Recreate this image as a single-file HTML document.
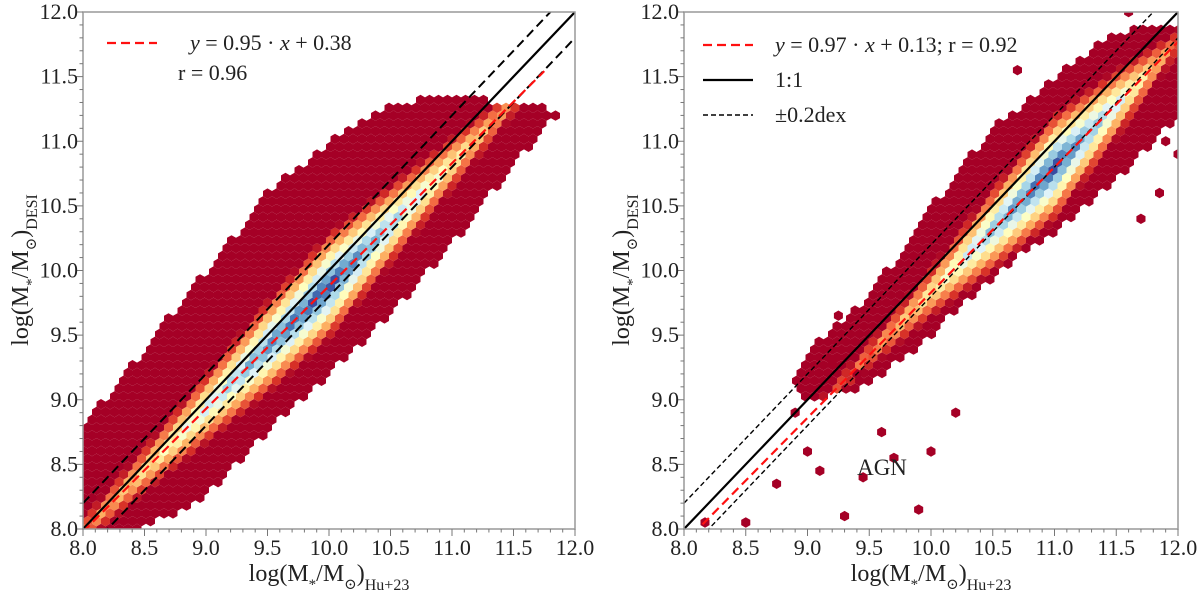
<!DOCTYPE html>
<html><head><meta charset="utf-8">
<style>
html,body{margin:0;padding:0;background:#fff;}
svg{display:block;}
text{font-family:"Liberation Serif","Times New Roman","DejaVu Serif",serif;}
</style></head>
<body>
<svg id="chart" width="1200" height="595" viewBox="0 0 1200 595" xmlns="http://www.w3.org/2000/svg">
</svg>
<script>
// ---------- data ----------
const xTickLabels = ["8.0","8.5","9.0","9.5","10.0","10.5","11.0","11.5","12.0"];
const yTickLabels = ["8.0","8.5","9.0","9.5","10.0","10.5","11.0","11.5","12.0"];
// left panel (all galaxies)
const leftKnotX = [8.0, 8.5, 9.0, 9.5, 10.0, 10.5, 11.0, 11.5, 11.8];
const leftUpper = [8.8, 9.4, 10.0, 10.6, 11.0, 11.3, 11.35, 11.3, 11.25];
const leftLower = [8.0, 8.0, 8.25, 8.75, 9.2, 9.65, 10.2, 10.8, 11.15];
const leftCoreAmp = [0.8, 1.4, 2.1, 2.8, 3.2, 2.4, 1.6, 0.8, 0.3];
const leftFit = {slope: 0.95, intercept: 0.38, xEnd: 11.75};
const leftR = "0.96";
// right panel (AGN)
const rightKnotX = [8.9, 9.0, 9.5, 10.0, 10.5, 11.0, 11.5, 12.0];
const rightUpper = [9.2, 9.4, 9.8, 10.5, 11.1, 11.5, 11.85, 11.9];
const rightLower = [9.1, 9.0, 9.1, 9.5, 9.95, 10.3, 10.7, 11.2];
const rightCoreAmp = [0.1, 0.3, 0.8, 1.5, 2.5, 3.2, 2.1, 0.7];
const rightFit = {slope: 0.97, intercept: 0.13, xStart: 8.15};
const rightR = "0.92";
const rightOutlierX = [8.17, 8.5, 8.75, 9.0, 9.1, 9.3, 9.45, 9.6, 9.9, 10.2, 8.9, 9.25, 9.7, 10.0, 9.2, 9.4, 10.7, 11.6, 11.7, 11.85, 11.9, 12.0];
const rightOutlierY = [8.05, 8.05, 8.35, 8.6, 8.45, 8.1, 8.4, 8.75, 8.15, 8.9, 8.9, 9.65, 8.55, 8.6, 9.3, 9.2, 11.55, 12.0, 10.4, 10.6, 11.0, 10.9];

// ---------- helpers ----------
const svg = document.getElementById('chart');
const NS = "http://www.w3.org/2000/svg";
const FONT = "'Liberation Serif', 'Times New Roman', 'DejaVu Serif', serif";
function mk(tag, attrs, parent){const e=document.createElementNS(NS,tag);for(const k in attrs)e.setAttribute(k,attrs[k]);if(tag==='text')e.style.fontFamily=FONT;(parent||svg).appendChild(e);return e;}
function interp(xs, ys, x){
  if(x<=xs[0])return ys[0]; if(x>=xs[xs.length-1])return ys[ys.length-1];
  for(let i=0;i<xs.length-1;i++){if(x<=xs[i+1]){const t=(x-xs[i])/(xs[i+1]-xs[i]);return ys[i]+t*(ys[i+1]-ys[i]);}}
}
const cmap=["#a50026","#d73027","#f46d43","#fdae61","#fee090","#ffffbf","#e0f3f8","#abd9e9","#74add1","#4575b4","#313695"];
function hex2rgb(h){return [1,3,5].map(i=>parseInt(h.substr(i,2),16));}
function color(t){t=Math.max(0,Math.min(1,t));const p=t*(cmap.length-1);const i=Math.min(cmap.length-2,Math.floor(p));const f=p-i;
  const a=hex2rgb(cmap[i]),b=hex2rgb(cmap[i+1]);return "rgb("+a.map((v,k)=>Math.round(v+f*(b[k]-v))).join(",")+")";}

function panel(p){
  const X0=p.x0,X1=p.x1,Y0=12,Y1=529;
  const sx=v=>X0+(v-8)/4*(X1-X0), sy=v=>Y1-(v-8)/4*(Y1-Y0);
  const ix=px=>8+(px-X0)/(X1-X0)*4, iy=py=>8+(Y1-py)/(Y1-Y0)*4;
  const g=mk('g',{});  
  const clip=mk('clipPath',{id:'clip-'+p.name},g); mk('rect',{x:X0,y:Y0,width:X1-X0,height:Y1-Y0},clip);
  const hg=mk('g',{'clip-path':'url(#clip-'+p.name+')'},g);
   
  const dx=9, dy=7.8, R=5.2;
  function hexPath(cx,cy){let s="";for(let k=0;k<6;k++){const a=Math.PI/6+k*Math.PI/3;s+=(k?"L":"M")+(cx+R*Math.cos(a)).toFixed(1)+","+(cy+R*Math.sin(a)).toFixed(1);}return s+"Z";}
  let row=0;
  for(let cy=Y1;cy>Y0-10;cy-=dy,row++){
    for(let cx=X0+(row%2?dx/2:0);cx<X1+10;cx+=dx){
      const x=ix(cx),y=iy(cy);
      const lo=interp(p.kx,p.lo,x),hi=interp(p.kx,p.hi,x);
      if(x<p.kx[0]-0.05||x>p.kx[p.kx.length-1]+0.05||y<lo||y>hi)continue;
      const r=y-(p.fit.slope*x+p.fit.intercept);
      const amp=interp(p.kx,p.amp,x);
      const t=(amp-Math.abs(r)/0.13)/3.2;
      mk('path',{d:hexPath(cx,cy),fill:color(t)},hg);
    }
  }
  if(p.ox){for(let i=0;i<p.ox.length;i++){const h=mk('path',{d:hexPath(sx(p.ox[i]),sy(p.oy[i])),fill:cmap[0]},hg);
     }}
  const lg=mk('g',{'clip-path':'url(#clip-'+p.name+')'},g);
  const l1=mk('line',{x1:sx(8),y1:sy(8),x2:sx(12),y2:sy(12),stroke:'#000','stroke-width':2.2},lg);
   
  [0.2,-0.2].forEach(o=>{const l=mk('line',{x1:sx(8),y1:sy(8+o),x2:sx(12),y2:sy(12+o),stroke:'#000','stroke-width':p.thinDash?1.4:2,'stroke-dasharray':p.thinDash?'5,3':'9,5'},lg);
     });
  const fx0=p.fit.xStart||8, fx1=p.fit.xEnd||12;
  const lf=mk('line',{x1:sx(fx0),y1:sy(p.fit.slope*fx0+p.fit.intercept),x2:sx(fx1),y2:sy(p.fit.slope*fx1+p.fit.intercept),stroke:'#ff1010','stroke-width':2.2,'stroke-dasharray':'9,5'},lg);
   
  const fr=mk('rect',{x:X0,y:Y0,width:X1-X0,height:Y1-Y0,fill:'none',stroke:'#999','stroke-width':1.5},g);
   
  for(let i=0;i<=40;i++){const v=8+i*0.1;const major=i%5===0;const L=major?7:3.5;
    mk('line',{x1:sx(v),y1:Y1,x2:sx(v),y2:Y1+L,stroke:'#777','stroke-width':1},g);
    mk('line',{x1:X0,y1:sy(v),x2:X0-L,y2:sy(v),stroke:'#777','stroke-width':1},g);}
  xTickLabels.forEach((s,i)=>{const v=8+i*0.5;const t=mk('text',{x:sx(v),y:Y1+26,'font-size':22,'text-anchor':'middle',fill:'#222'},g);t.textContent=s;
     });
  yTickLabels.forEach((s,i)=>{const v=8+i*0.5;const t=mk('text',{x:X0-5,y:sy(v)+7,'font-size':22,'text-anchor':'end',fill:'#222'},g);t.textContent=s;
     });
  const xt=mk('text',{x:(X0+X1)/2,y:581,'font-size':24,'text-anchor':'middle',fill:'#222'},g);
  xt.innerHTML='log(M<tspan baseline-shift="sub" font-size="15">*</tspan>/M<tspan baseline-shift="sub" font-size="15">⊙</tspan>)<tspan baseline-shift="sub" font-size="16">Hu+23</tspan>';
   
  const yt=mk('text',{x:0,y:0,'font-size':24,'text-anchor':'middle',fill:'#222',transform:'translate('+(X0-55)+',270) rotate(-90)'},g);
  yt.innerHTML='log(M<tspan baseline-shift="sub" font-size="15">*</tspan>/M<tspan baseline-shift="sub" font-size="15">⊙</tspan>)<tspan baseline-shift="sub" font-size="16">DESI</tspan>';
   
  return {g,sx,sy,X0};
}

const L=panel({name:'left-panel',x0:83,x1:575,kx:leftKnotX,hi:leftUpper,lo:leftLower,amp:leftCoreAmp,fit:leftFit,thinDash:false});
const Rp=panel({name:'right-panel',x0:684,x1:1178,kx:rightKnotX,hi:rightUpper,lo:rightLower,amp:rightCoreAmp,fit:rightFit,thinDash:true,ox:rightOutlierX,oy:rightOutlierY});

function legLine(g,x,y,attrs,name){const l=mk('line',Object.assign({x1:x,y1:y,x2:x+50,y2:y},attrs),g);}
function legText(g,x,y,html,name){const t=mk('text',{x:x,y:y,'font-size':22,fill:'#222'},g);t.innerHTML=html;}
const lgL=mk('g',{});  
legLine(lgL,107,43,{stroke:'#ff1010','stroke-width':2.2,'stroke-dasharray':'9,5'},'legend-fit-line');
legText(lgL,190,50,'<tspan font-style="italic">y</tspan> = 0.95 · <tspan font-style="italic">x</tspan> + 0.38','legend-fit-text');
legText(lgL,178,80,'r = '+leftR,'legend-r-text');
const lgR=mk('g',{});  
legLine(lgR,703,45,{stroke:'#ff1010','stroke-width':2.2,'stroke-dasharray':'9,5'},'legend-fit-line');
legText(lgR,775,52,'<tspan font-style="italic">y</tspan> = 0.97 · <tspan font-style="italic">x</tspan> + 0.13; r = '+rightR,'legend-fit-text');
legLine(lgR,703,80,{stroke:'#000','stroke-width':2.2},'legend-one-to-one');
legText(lgR,775,87,'1:1','legend-one-to-one-text');
legLine(lgR,703,115,{stroke:'#000','stroke-width':1.4,'stroke-dasharray':'5,3'},'legend-offset');
legText(lgR,775,122,'±0.2dex','legend-offset-text');
const agn=mk('text',{x:882,y:475,'font-size':23,'text-anchor':'middle',fill:'#222'});
agn.textContent='AGN';
 
</script>
</body></html>
